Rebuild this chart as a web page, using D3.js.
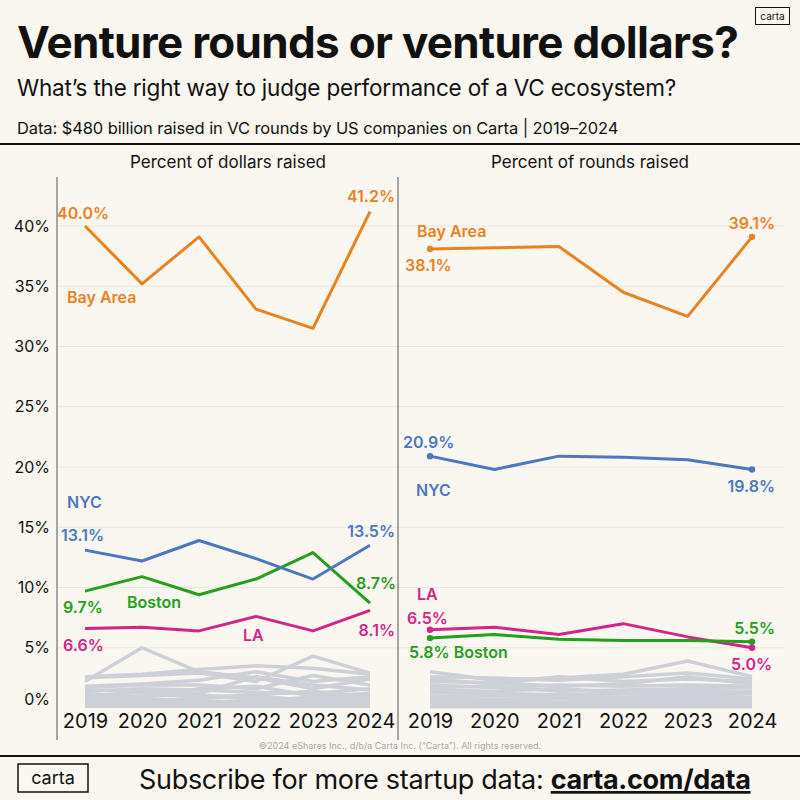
<!DOCTYPE html>
<html>
<head>
<meta charset="utf-8">
<script src="https://cdn.jsdelivr.net/npm/d3@7"></script>
<style>
  body { margin: 0; background: #faf7f0; }
  svg { display: block; font-family: Inter, "Noto Sans", sans-serif; }
  .tick text { fill: #111; }
</style>
</head>
<body>
<svg id="chart" width="800" height="800"></svg>
<script>
var width = 800,
    height = 800;

// ---- data ----
var years = [2019, 2020, 2021, 2022, 2023, 2024];
var yTicks = [0, 5, 10, 15, 20, 25, 30, 35, 40];

// percent of dollars raised
var dollarsBay    = [40.0, 35.2, 39.1, 33.1, 31.5, 41.2];
var dollarsNYC    = [13.1, 12.2, 13.9, 12.4, 10.7, 13.5];
var dollarsBoston = [9.7, 10.9, 9.4, 10.7, 12.9, 8.7];
var dollarsLA     = [6.6, 6.7, 6.4, 7.6, 6.4, 8.1];

// percent of rounds raised
var roundsBay    = [38.1, 38.2, 38.3, 34.5, 32.5, 39.1];
var roundsNYC    = [20.9, 19.8, 20.9, 20.8, 20.6, 19.8];
var roundsBoston = [5.8, 6.1, 5.7, 5.6, 5.6, 5.5];
var roundsLA     = [6.5, 6.7, 6.1, 7.0, 5.9, 5.0];

// all other metros (grey)
var dollarsOther = [
  [2.2, 5.0, 3.0, 2.5, 1.6, 2.4],
  [2.6, 2.8, 3.2, 3.5, 3.3, 2.8],
  [2.5, 2.7, 2.9, 2.2, 4.3, 2.9],
  [1.8, 2.0, 2.3, 3.0, 2.2, 2.6],
  [1.7, 1.9, 1.9, 1.6, 2.7, 1.9],
  [1.5, 1.4, 1.2, 2.6, 1.9, 1.5],
  [1.4, 1.6, 1.5, 1.3, 1.2, 1.6],
  [1.2, 0.9, 1.6, 1.8, 1.0, 1.2],
  [1.0, 1.3, 0.9, 1.1, 1.4, 0.9],
  [0.9, 1.0, 1.1, 0.7, 0.8, 1.1],
  [0.8, 0.6, 0.8, 1.0, 0.6, 0.8],
  [0.6, 0.8, 0.5, 0.6, 0.9, 0.6],
  [0.5, 0.4, 0.6, 0.4, 0.5, 0.4],
  [0.3, 0.3, 0.3, 0.3, 0.3, 0.3],
  [0.15, 0.15, 0.15, 0.15, 0.15, 0.15]
];
var roundsOther = [
  [3.0, 2.3, 2.5, 2.8, 3.9, 2.6],
  [2.6, 2.5, 2.3, 2.6, 2.9, 2.4],
  [2.4, 2.0, 2.6, 2.2, 2.4, 2.2],
  [2.2, 2.1, 1.8, 2.0, 2.6, 2.0],
  [1.9, 1.7, 1.9, 1.8, 1.9, 1.8],
  [1.7, 1.8, 1.4, 1.5, 1.6, 1.7],
  [1.5, 1.4, 1.6, 1.3, 1.4, 1.4],
  [1.3, 1.2, 1.1, 1.2, 1.1, 1.2],
  [1.0, 1.0, 1.0, 0.9, 1.0, 0.9],
  [0.8, 0.7, 0.8, 0.8, 0.7, 0.8],
  [0.6, 0.6, 0.5, 0.6, 0.6, 0.6],
  [0.4, 0.4, 0.4, 0.4, 0.4, 0.4],
  [0.25, 0.25, 0.25, 0.25, 0.25, 0.25],
  [0.1, 0.1, 0.1, 0.1, 0.1, 0.1]
];

var colors = { bay: "#e9821f", nyc: "#4d77c2", boston: "#23a01c", la: "#d4248a", other: "#cdd0d7" };

var svg = d3.select("#chart");

svg.append("rect").attr("width", width).attr("height", height).attr("fill", "#faf7f0");

// ---- header ----
svg.append("text").attr("x", 17).attr("y", 58)
    .attr("font-size", 44).attr("font-weight", 700).attr("letter-spacing", -0.7).attr("fill", "#111")
    .text("Venture rounds or venture dollars?");
svg.append("text").attr("x", 17).attr("y", 96)
    .attr("font-size", 22.5).attr("font-weight", 400).attr("letter-spacing", -0.2).attr("fill", "#111")
    .text("What\u2019s the right way to judge performance of a VC ecosystem?");
svg.append("text").attr("x", 17).attr("y", 134)
    .attr("font-size", 16.5).attr("font-weight", 400).attr("letter-spacing", -0.1).attr("fill", "#111")
    .text("Data: $480 billion raised in VC rounds by US companies on Carta | 2019\u20132024");

// little logo top right
svg.append("rect").attr("x", 755.5).attr("y", 7.5).attr("width", 34).attr("height", 17)
    .attr("fill", "none").attr("stroke", "#111").attr("stroke-width", 1);
svg.append("text").attr("x", 772.5).attr("y", 20).attr("text-anchor", "middle")
    .attr("font-size", 10).attr("fill", "#111").text("carta");

svg.append("line").attr("x1", 0).attr("x2", width).attr("y1", 144).attr("y2", 144)
    .attr("stroke", "#111").attr("stroke-width", 2);

// ---- scales ----
var y = d3.scaleLinear().domain([0, 40]).range([708, 226]);
var xL = d3.scalePoint().domain(years).range([85, 370]);
var xR = d3.scalePoint().domain(years).range([430, 752]);

// panel titles
svg.append("text").attr("x", 228).attr("y", 168).attr("text-anchor", "middle")
    .attr("font-size", 17).attr("fill", "#111").text("Percent of dollars raised");
svg.append("text").attr("x", 590).attr("y", 168).attr("text-anchor", "middle")
    .attr("font-size", 17).attr("fill", "#111").text("Percent of rounds raised");

// gridlines
var grid = svg.append("g");
grid.selectAll("line")
    .data(yTicks.filter(function(d) { return d > 0; }))
    .enter().append("line")
    .attr("x1", 57).attr("x2", 784)
    .attr("y1", function(d) { return y(d); })
    .attr("y2", function(d) { return y(d); })
    .attr("stroke", "#ebe7de").attr("stroke-width", 1);

// y axis
var yAxis = svg.append("g").attr("transform", "translate(57,0)")
    .call(d3.axisLeft(y).tickValues(yTicks).tickSize(0).tickPadding(7)
        .tickFormat(function(d) { return d + "%"; }));
yAxis.select(".domain").remove();
yAxis.selectAll("text").attr("font-size", 16).attr("font-family", "Inter, sans-serif")
    .attr("dy", function(d) { return d === 0 ? "-0.2em" : "0.32em"; });

// panel divider lines
svg.append("line").attr("x1", 57).attr("x2", 57).attr("y1", 177).attr("y2", 740)
    .attr("stroke", "#555").attr("stroke-width", 1);
svg.append("line").attr("x1", 398).attr("x2", 398).attr("y1", 177).attr("y2", 740)
    .attr("stroke", "#555").attr("stroke-width", 1);

// x axes
function xAxis(x) {
    var g = svg.append("g").attr("transform", "translate(0,708)")
        .call(d3.axisBottom(x).tickSize(0).tickPadding(6));
    g.select(".domain").remove();
    g.selectAll("text").attr("font-size", 20).attr("font-family", "Inter, sans-serif");
}
xAxis(xL);
xAxis(xR);

// ---- lines ----
function drawPanel(x, other, series, dots) {
    var line = d3.line()
        .x(function(d, i) { return x(years[i]); })
        .y(function(d) { return y(d); });

    var g = svg.append("g");
    g.selectAll(".other")
        .data(other)
        .enter().append("path")
        .attr("class", "other")
        .attr("d", line)
        .attr("fill", "none")
        .attr("stroke", colors.other)
        .attr("stroke-width", 3.5)
        .attr("stroke-linejoin", "round");

    g.selectAll(".main")
        .data(series)
        .enter().append("path")
        .attr("class", "main")
        .attr("d", function(d) { return line(d.values); })
        .attr("fill", "none")
        .attr("stroke", function(d) { return d.color; })
        .attr("stroke-width", 3)
        .attr("stroke-linejoin", "round");

    if (dots) {
        series.forEach(function(s) {
            g.selectAll(null)
                .data([0, years.length - 1])
                .enter().append("circle")
                .attr("cx", function(i) { return x(years[i]); })
                .attr("cy", function(i) { return y(s.values[i]); })
                .attr("r", 3.2)
                .attr("fill", s.color);
        });
    }
}

drawPanel(xL, dollarsOther, [
    { values: dollarsLA, color: colors.la },
    { values: dollarsBoston, color: colors.boston },
    { values: dollarsNYC, color: colors.nyc },
    { values: dollarsBay, color: colors.bay }
], false);

drawPanel(xR, roundsOther, [
    { values: roundsLA, color: colors.la },
    { values: roundsBoston, color: colors.boston },
    { values: roundsNYC, color: colors.nyc },
    { values: roundsBay, color: colors.bay }
], true);

// ---- labels ----
function label(txt, xx, yy, color, anchor) {
    svg.append("text").attr("x", xx).attr("y", yy)
        .attr("text-anchor", anchor || "start")
        .attr("font-size", 16).attr("font-weight", 600)
        .attr("fill", color).text(txt);
}
function pct(v) { return v.toFixed(1) + "%"; }

// left panel
label(pct(dollarsBay[0]), 57, 219, colors.bay);
label(pct(dollarsBay[5]), 395, 202, colors.bay, "end");
label("Bay Area", 67, 303, colors.bay);
label("NYC", 67, 508, colors.nyc);
label(pct(dollarsNYC[0]), 61, 541, colors.nyc);
label(pct(dollarsNYC[5]), 395, 537, colors.nyc, "end");
label(pct(dollarsBoston[5]), 396, 589, colors.boston, "end");
label(pct(dollarsBoston[0]), 63, 613, colors.boston);
label("Boston", 127, 608, colors.boston);
label(pct(dollarsLA[0]), 63, 651, colors.la);
label("LA", 243, 641, colors.la);
label(pct(dollarsLA[5]), 395, 636, colors.la, "end");

// right panel
label("Bay Area", 417, 237, colors.bay);
label(pct(roundsBay[0]), 405, 271, colors.bay);
label(pct(roundsBay[5]), 775, 229, colors.bay, "end");
label(pct(roundsNYC[0]), 403, 448, colors.nyc);
label("NYC", 416, 496, colors.nyc);
label(pct(roundsNYC[5]), 775, 492, colors.nyc, "end");
label("LA", 417, 600, colors.la);
label(pct(roundsLA[0]), 407, 624, colors.la);
label(pct(roundsBoston[0]) + " Boston", 409, 658, colors.boston);
label(pct(roundsBoston[5]), 775, 634, colors.boston, "end");
label(pct(roundsLA[5]), 772, 670, colors.la, "end");

// ---- footer ----
svg.append("text").attr("x", 400).attr("y", 749).attr("text-anchor", "middle")
    .attr("font-size", 9).attr("fill", "#aaa")
    .text("\u00a92024 eShares Inc., d/b/a Carta Inc. (\u201cCarta\u201d). All rights reserved.");
svg.append("line").attr("x1", 0).attr("x2", width).attr("y1", 756).attr("y2", 756)
    .attr("stroke", "#111").attr("stroke-width", 2);

svg.append("rect").attr("x", 18).attr("y", 764).attr("width", 70).attr("height", 28)
    .attr("fill", "none").attr("stroke", "#111").attr("stroke-width", 1.5);
svg.append("text").attr("x", 53).attr("y", 784).attr("text-anchor", "middle")
    .attr("font-size", 18).attr("fill", "#111").text("carta");

var sub = svg.append("text").attr("x", 139).attr("y", 789)
    .attr("font-size", 27).attr("letter-spacing", -0.3).attr("fill", "#111");
sub.append("tspan").text("Subscribe for more startup data: ");
sub.append("tspan").attr("font-weight", 700).attr("text-decoration", "underline").text("carta.com/data");
</script>
</body>
</html>
